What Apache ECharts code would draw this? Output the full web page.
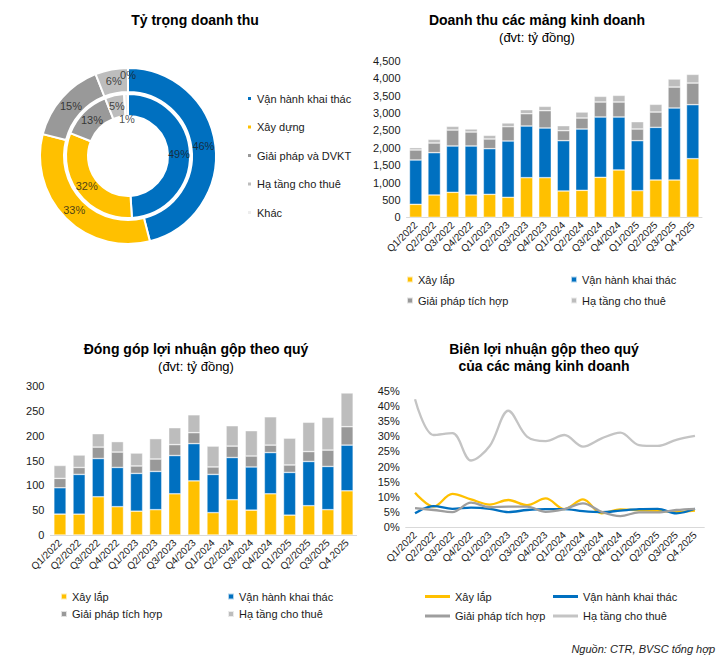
<!DOCTYPE html>
<html>
<head>
<meta charset="utf-8">
<script src="https://cdn.jsdelivr.net/npm/echarts@6/dist/echarts.min.js"></script>
<style>
  html, body { margin: 0; padding: 0; background: #fff; }
  #wrap { position: relative; width: 724px; height: 666px; }
  .c { position: absolute; left: 0; top: 0; width: 724px; height: 666px; }
</style>
</head>
<body>
<div id="wrap">
  <div id="c1" class="c"></div>
  <div id="c2" class="c"></div>
  <div id="c3" class="c"></div>
  <div id="c4" class="c"></div>
</div>
<script>
// ---------- DATA ----------
const quarters = ['Q1/2022','Q2/2022','Q3/2022','Q4/2022','Q1/2023','Q2/2023','Q3/2023','Q4/2023',
                  'Q1/2024','Q2/2024','Q3/2024','Q4/2024','Q1/2025','Q2/2025','Q3/2025','Q4.2025'];

// Donut (percent)
const donutNames = ['Vận hành khai thác','Xây dựng','Giải pháp và DVKT','Hạ tầng cho thuê','Khác'];
const donutOuter = [46, 33, 15, 6, 0];
const donutInner = [49, 32, 13, 5, 1];

// Revenue by segment (tỷ đồng)
const revXayLap   = [373,641,718,641,660,574,1139,1139,756,775,1149,1360,766,1072,1072,1685];
const revVanHanh  = [1274,1216,1331,1408,1312,1618,1484,1427,1446,1762,1733,1522,1436,1513,2068,1551];
const revGiaiPhap = [287,278,459,402,278,412,354,498,287,316,431,431,335,440,603,622];
const revHaTang   = [67,105,106,86,105,105,115,124,144,172,162,191,211,221,230,249];

// Gross profit contribution (tỷ đồng)
const gpXayLap   = [42,42,77,57,48,51,83,109,45,71,50,83,40,59,51,89];
const gpVanHanh  = [53,80,77,79,76,77,77,75,77,85,87,83,86,89,87,92];
const gpGiaiPhap = [19,14,23,31,15,25,22,22,15,23,22,15,15,20,33,37];
const gpHaTang   = [26,25,27,21,26,41,34,36,42,41,51,57,54,59,66,68];

// Gross margin (%)
const gmXayLap   = [11.4,6.8,11.0,9.2,7.5,9.0,7.3,9.5,6.0,9.2,4.6,5.9,5.6,5.4,5.1,5.5];
const gmVanHanh  = [4.6,7.0,6.1,6.5,6.1,5.0,5.7,6.0,6.0,5.3,5.0,5.5,6.0,6.1,4.6,6.1];
const gmGiaiPhap = [6.3,5.7,5.0,8.1,6.6,6.8,6.8,5.1,6.0,7.9,5.1,3.7,4.9,4.9,5.7,6.1];
const gmHaTang   = [42.2,30.4,31.0,22.0,26.8,38.4,29.9,28.4,30.4,26.6,29.3,31.2,27.1,26.8,28.8,30.1];

const sXayLap = 'Xây lắp', sVanHanh = 'Vận hành khai thác', sGiaiPhap = 'Giải pháp tích hợp', sHaTang = 'Hạ tầng cho thuê';

// ---------- STYLE ----------
const BLUE = '#0070C0', YELLOW = '#FFC000', DGREY = '#999999', LGREY = '#BDBDBD', KHAC = '#EDEDED';
const TXT = '#1a1a1a';
const FONT = '"Liberation Sans", Arial, sans-serif';

function thousands(v) { return String(v).replace(/\B(?=(\d{3})+(?!\d))/g, ','); }

function titleText(x, y, text, bold, size) {
  return { type: 'text', x: x, y: y, silent: true,
    style: { text: text, fill: '#000', font: (bold ? 'bold ' : '') + size + 'px ' + FONT,
             align: 'center', verticalAlign: 'middle', textAlign: 'center', textVerticalAlign: 'middle' } };
}

function xCat() {
  return {
    type: 'category', data: quarters, boundaryGap: true,
    axisTick: { show: false },
    axisLine: { show: true, lineStyle: { color: '#D9D9D9', width: 1 } },
    axisLabel: { interval: 0, rotate: 45, fontSize: 10, color: TXT, fontFamily: FONT, margin: 6 }
  };
}
function yVal(min, max, interval, fmt) {
  return {
    type: 'value', min: min, max: max, interval: interval,
    splitLine: { show: false }, axisLine: { show: false }, axisTick: { show: false },
    axisLabel: { fontSize: 11, color: TXT, fontFamily: FONT, margin: 6, formatter: fmt }
  };
}
function barSeries(name, data, color, width) {
  return { name: name, type: 'bar', stack: 'total', data: data, barWidth: width,
    itemStyle: { color: color, borderColor: 'rgba(255,255,255,0.7)', borderWidth: 0.6 },
    emphasis: { disabled: true }, silent: true };
}
function legendBox(left, top, names, iconW, iconH, gap) {
  return { left: left, top: top, padding: 0, orient: 'vertical', data: names, icon: 'rect',
    itemWidth: iconW, itemHeight: iconH, itemGap: gap, selectedMode: false,
    textStyle: { fontSize: 11, color: TXT, fontFamily: FONT } };
}

// ---------- CHART 1: donut ----------
const RING_OUT = [64, 88], RING_IN = [40, 62];
// label anchors in polar coords built from the data (mid-angle of each slice)
function ringLabels(values, ring) {
  const total = values.reduce((a, b) => a + b, 0);
  let cum = 0;
  return values.map(v => {
    const mid = (cum + v / 2) / total * 100;
    cum += v;
    const tiny = v / total < 0.02;
    const midR = (ring[0] + ring[1]) / 2;
    // tiny slices: label pushed toward the ring's free side (as in the source)
    const r = tiny ? (ring === RING_OUT ? midR + 5 : ring[0] - 3) : midR;
    return [r, mid, v];
  });
}
function labelSeries(name, values, ring) {
  return { type: 'scatter', name: name, coordinateSystem: 'polar', silent: true,
    symbol: 'circle', symbolSize: 1, itemStyle: { color: 'rgba(255,255,255,0)' },
    label: { show: true, position: 'inside', fontSize: 11, color: TXT, fontFamily: FONT,
             formatter: p => p.value[2] + '%' },
    emphasis: { disabled: true }, z: 10,
    data: ringLabels(values, ring) };
}
const c1 = echarts.init(document.getElementById('c1'), null, { renderer: 'svg' });
c1.setOption({
  animation: false,
  color: [BLUE, YELLOW, DGREY, LGREY, KHAC],
  graphic: [ titleText(195, 20, 'Tỷ trọng doanh thu', true, 14) ],
  legend: { left: 246, top: 93, padding: 0, orient: 'vertical', icon: 'rect', itemWidth: 5, itemHeight: 5,
            itemGap: 17.5, selectedMode: false, data: donutNames,
            textStyle: { fontSize: 11, color: TXT, fontFamily: FONT } },
  polar: { center: [128, 156], radius: [0, 88] },
  angleAxis: { type: 'value', min: 0, max: 100, startAngle: 90, clockwise: true, show: false },
  radiusAxis: { type: 'value', min: 0, max: 88, show: false },
  series: [
    { type: 'pie', name: 'outer', center: [128, 156], radius: RING_OUT, startAngle: 90, clockwise: true,
      silent: true, itemStyle: { borderColor: '#fff', borderWidth: 2 },
      label: { show: false }, labelLine: { show: false },
      data: donutNames.map((n, i) => ({ name: n, value: donutOuter[i] })) },
    { type: 'pie', name: 'inner', center: [128, 156], radius: RING_IN, startAngle: 90, clockwise: true,
      silent: true, itemStyle: { borderColor: '#fff', borderWidth: 2 },
      label: { show: false }, labelLine: { show: false },
      data: donutNames.map((n, i) => ({ name: n, value: donutInner[i] })) },
    labelSeries('lblOuter', donutOuter, RING_OUT),
    labelSeries('lblInner', donutInner, RING_IN)
  ]
});

// ---------- CHART 2: revenue stacked bars ----------
const c2 = echarts.init(document.getElementById('c2'), null, { renderer: 'svg' });
c2.setOption({
  animation: false,
  graphic: [ titleText(537, 20, 'Doanh thu các mảng kinh doanh', true, 14),
             titleText(537, 37, '(đvt: tỷ đồng)', false, 13) ],
  grid: { left: 406.5, right: 22, top: 60.7, bottom: 448.7, containLabel: false },
  xAxis: xCat(),
  yAxis: yVal(0, 4500, 500, thousands),
  legend: [ legendBox(406, 274, [sXayLap, sGiaiPhap], 6, 6, 10),
            legendBox(570, 274, [sVanHanh, sHaTang], 6, 6, 10) ],
  series: [ barSeries(sXayLap, revXayLap, YELLOW, '68%'),
            barSeries(sVanHanh, revVanHanh, BLUE, '68%'),
            barSeries(sGiaiPhap, revGiaiPhap, DGREY, '68%'),
            barSeries(sHaTang, revHaTang, LGREY, '68%') ]
});

// ---------- CHART 3: gross profit stacked bars ----------
const c3 = echarts.init(document.getElementById('c3'), null, { renderer: 'svg' });
c3.setOption({
  animation: false,
  graphic: [ titleText(196, 349, 'Đóng góp lợi nhuận gộp theo quý', true, 14),
             titleText(196, 366, '(đvt: tỷ đồng)', false, 13) ],
  grid: { left: 50.4, right: 367.4, top: 386, bottom: 131, containLabel: false },
  xAxis: xCat(),
  yAxis: yVal(0, 300, 50, null),
  legend: [ legendBox(60, 591, [sXayLap, sGiaiPhap], 6, 6, 6.5),
            legendBox(227, 591, [sVanHanh, sHaTang], 6, 6, 6.5) ],
  series: [ barSeries(sXayLap, gpXayLap, YELLOW, '64%'),
            barSeries(sVanHanh, gpVanHanh, BLUE, '64%'),
            barSeries(sGiaiPhap, gpGiaiPhap, DGREY, '64%'),
            barSeries(sHaTang, gpHaTang, LGREY, '64%') ]
});

// ---------- CHART 4: gross margin lines ----------
function lineSeries(name, data, color) {
  return { name: name, type: 'line', data: data, smooth: 0.35, symbol: 'none',
    lineStyle: { color: color, width: 2.3 }, itemStyle: { color: color },
    emphasis: { disabled: true }, silent: true };
}
const c4 = echarts.init(document.getElementById('c4'), null, { renderer: 'svg' });
c4.setOption({
  animation: false,
  graphic: [ titleText(544, 349, 'Biên lợi nhuận gộp theo quý', true, 14),
             titleText(544, 366, 'của các mảng kinh doanh', true, 14),
             { type: 'text', x: 715, y: 649, silent: true,
               style: { text: 'Nguồn: CTR, BVSC tổng hợp', fill: '#222', font: 'italic 11px ' + FONT,
                        align: 'right', verticalAlign: 'middle', textAlign: 'right', textVerticalAlign: 'middle' } } ],
  grid: { left: 405.7, right: 19.7, top: 390.7, bottom: 138.7, containLabel: false },
  xAxis: xCat(),
  yAxis: yVal(0, 45, 5, '{value}%'),
  legend: [ legendBox(425, 591, [sXayLap, sGiaiPhap], 25, 3, 8.5),
            legendBox(553, 591, [sVanHanh, sHaTang], 25, 3, 8.5) ],
  series: [ lineSeries(sXayLap, gmXayLap, YELLOW),
            lineSeries(sVanHanh, gmVanHanh, BLUE),
            lineSeries(sGiaiPhap, gmGiaiPhap, '#9E9E9E'),
            lineSeries(sHaTang, gmHaTang, '#C4C4C4') ]
});
</script>
</body>
</html>
